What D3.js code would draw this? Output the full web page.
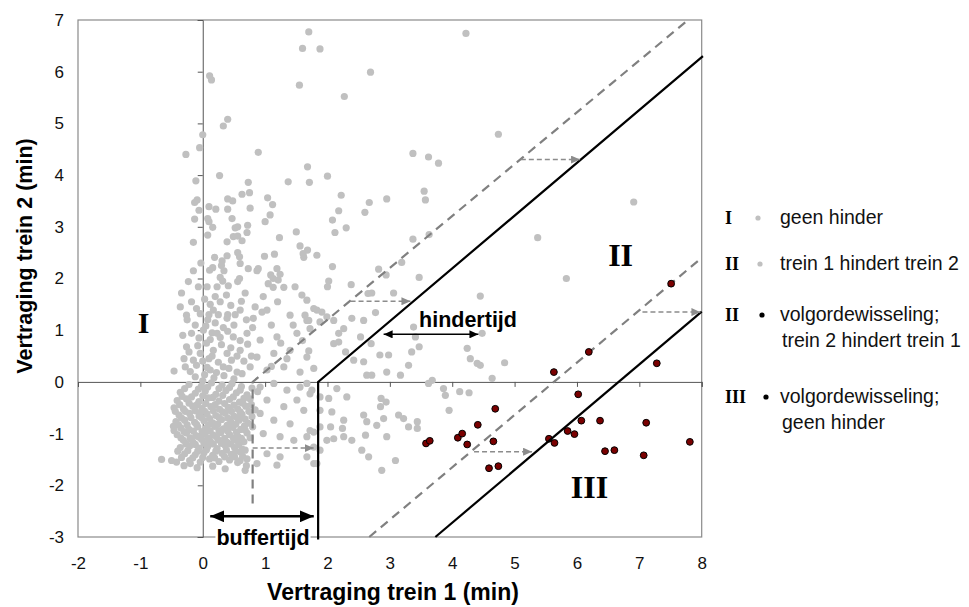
<!DOCTYPE html>
<html><head><meta charset="utf-8">
<script src="https://cdn.jsdelivr.net/npm/d3@7/dist/d3.min.js"></script>
<style>body{margin:0;background:#fff}svg{display:block}</style>
</head><body><svg id="c" width="969" height="607"></svg>
<script>
const xTicks=[-2,-1,0,1,2,3,4,5,6,7,8];
const yTicks=[-3,-2,-1,0,1,2,3,4,5,6,7];
const xTitle="Vertraging trein 1 (min)";
const yTitle="Vertraging trein 2 (min)";

// grey points: region I (geen hinder) and region II (trein 1 hindert trein 2)
const grayPoints=[
[1.70,6.77],[1.60,6.45],[1.88,6.44],[0.11,5.92],[0.14,5.84],[1.55,5.74],[0.40,5.08],[0.33,4.95],[0.0,4.78],[-0.05,4.53],[-0.27,4.40],[0.89,4.44],[1.68,4.16],[0.27,3.99],[-0.11,3.89],[0.73,3.86],[1.37,3.87],[1.71,3.86],[0.63,3.63],[0.75,3.66],[-0.13,3.47],[-0.09,3.52],[0.40,3.54],[0.48,3.50],[1.04,3.56],[1.12,3.43],[0.10,3.39],[0.21,3.34],[-0.06,3.32],[0.40,3.34],[0.76,3.36],[0.08,3.16],[0.10,3.10],[-0.13,3.15],[0.47,3.16],[1.08,3.23],[1.00,3.10],[0.16,2.99],[0.52,2.98],[0.56,3.00],[0.72,3.03],[0.71,2.89],[1.50,2.90],[0.08,2.84],[0.49,2.81],[0.56,2.82],[-0.15,2.70],[0.39,2.71],[0.63,2.73],[1.23,2.79],[1.56,2.63],[1.68,2.55],[1.61,2.48],[1.62,2.41],[1.83,2.45],[0.56,2.50],[0.59,2.42],[0.60,2.29],[0.39,2.44],[0.31,2.34],[0.19,2.41],[0.99,2.43],[1.15,2.47],[-0.03,2.30],[0.11,2.16],[0.16,2.21],[0.30,2.25],[0.34,2.15],[-0.15,2.15],[0.73,2.19],[0.87,2.15],[0.89,2.19],[1.19,2.19],[1.09,2.07],[1.24,2.08],[1.13,2.00],[1.21,1.97],[0.59,2.00],[0.56,1.94],[0.28,2.02],[0.32,1.95],[-0.23,1.94],[-0.07,1.84],[0.07,1.84],[0.23,1.84],[0.41,1.86],[1.05,1.90],[1.13,1.83],[1.30,1.83],[1.48,1.84],[-0.34,1.72],[0.68,1.72],[0.97,1.65],[1.59,1.68],
[4.22,6.74],[2.69,5.99],[2.27,5.52],[4.74,4.79],[3.37,4.42],[3.62,4.35],[3.78,4.23],[2.00,3.98],[2.22,3.61],[2.67,3.47],[2.95,3.54],[2.60,3.28],[3.55,3.69],[3.57,3.52],[2.18,3.31],[2.08,3.13],[2.12,2.89],[2.30,2.98],[6.91,3.48],[5.37,2.79],[3.37,2.76],[3.63,2.85],[2.08,2.23],[2.02,1.95],[2.00,1.84],[2.38,1.88],[2.82,2.18],[2.94,2.07],[3.19,2.31],[3.47,2.02],[5.83,2.00],[2.65,1.71],[2.71,1.72],[3.06,1.72],[4.45,1.66],
[1.67,1.58],[1.78,1.42],[1.91,1.35],[1.99,1.26],[1.88,1.16],[2.10,1.19],[2.26,1.03],[2.39,1.23],[2.18,0.77],[1.70,1.19],[1.72,1.03],[1.64,1.29],[2.77,1.34],[2.53,0.87],[3.38,1.06],[3.41,0.87],[3.47,0.68],[2.18,0.94],[2.10,0.74],[2.58,1.19],[2.70,0.74],
[4.48,0.94],[4.24,0.65],[4.29,0.45],[4.40,0.36],[4.45,0.32],[4.84,0.37],[3.35,0.58],[3.30,0.32],[3.17,0.13],[2.95,0.19],[2.84,0.52],[2.98,0.52],[2.63,0.13],[2.71,0.13],[2.58,0.39],[2.42,0.42],[2.29,0.58],
[3.62,-0.03],[3.68,0.03],[3.86,-0.13],[3.89,-0.26],[4.12,-0.19],[4.27,-0.21],[4.64,0.07],[3.95,-0.55],[2.86,-0.32],[2.94,-0.39],[2.85,-0.48],[2.58,-0.64],[2.63,-0.77],[2.79,-0.84],[2.90,-0.71],[3.14,-0.64],[3.22,-0.71],[3.30,-0.87],[3.44,-0.77],[3.44,-0.90],[2.61,-1.03],[2.95,-1.06],[2.39,-1.13],[2.26,-1.06],[2.10,-1.10],[2.24,-0.90],[2.05,-0.87],[2.55,-1.32],[2.66,-1.45],[3.09,-1.52],[2.87,-1.71],
[1.88,-0.29],[2.02,-0.32],[2.15,-0.13],[2.31,-0.29],[1.67,-0.03],[1.75,-0.16],[1.88,-0.55],[2.07,-0.58],[2.26,-0.74],[1.88,-0.87],[1.78,-0.97],[1.67,-1.06],[1.78,-1.26],[1.88,-1.32],[1.99,-1.13],[1.83,-1.58],[1.67,-1.45],
[-0.36,1.45],[-0.26,1.29],[-0.04,1.32],[0.17,1.39],[0.39,1.23],[0.60,1.39],[0.81,1.23],[1.03,1.39],[1.40,1.29],[1.67,1.19],[1.83,1.39],[-0.18,0.94],[0.01,1.00],[0.23,0.94],[0.49,0.87],[0.71,0.94],[0.92,0.81],[1.19,0.87],[1.51,0.94],[-0.26,0.68],[-0.04,0.55],[0.17,0.61],[0.39,0.55],[0.60,0.61],[0.87,0.48],[1.14,0.55],[1.40,0.61],[1.67,0.48],[-0.46,0.21],[-0.28,0.29],[-0.10,0.32],[0.12,0.23],[0.33,0.29],[0.55,0.19],[0.76,0.29],[1.03,0.23],[1.30,0.29],[1.56,0.19],[1.78,0.26],
[0.92,-0.10],[1.14,-0.03],[1.35,-0.16],[1.56,-0.10],[1.72,-0.23],[1.03,-0.35],[1.30,-0.48],[1.51,-0.35],[1.62,-0.55],[0.92,-0.61],[1.14,-0.74],[1.40,-0.81],[1.72,-0.94],[0.97,-1.00],[1.24,-1.06],[1.46,-1.13],[1.03,-1.39],[1.24,-1.45],[0.87,-1.58],[1.19,-1.61],[1.78,-1.58],[0.68,-1.71],[0.60,-1.52],[-0.47,-0.86],[-0.50,-1.52],[-0.42,-1.55],[-0.20,-1.58],
[-0.22,-0.05],[-0.02,-0.08],[0.14,-0.02],[0.31,-0.06],[0.47,-0.03],[0.62,-0.09],
[-0.36,-0.2],[-0.12,-0.22],[0.04,-0.18],[0.21,-0.24],[0.37,-0.17],[0.54,-0.21],[0.71,-0.25],[0.88,-0.19],
[-0.41,-0.36],[-0.26,-0.33],[-0.06,-0.38],[0.09,-0.31],[0.26,-0.37],[0.43,-0.34],[0.59,-0.39],[0.76,-0.33],
[-0.46,-0.5],[-0.31,-0.52],[-0.16,-0.47],[-0.01,-0.51],[0.13,-0.48],[0.27,-0.53],[0.41,-0.49],[0.56,-0.52],[0.69,-0.47],[0.84,-0.54],
[-0.38,-0.64],[-0.21,-0.61],[-0.06,-0.66],[0.07,-0.62],[0.21,-0.65],[0.36,-0.6],[0.5,-0.66],[0.63,-0.63],[0.79,-0.67],
[-0.43,-0.77],[-0.29,-0.74],[-0.13,-0.78],[0.02,-0.75],[0.16,-0.79],[0.3,-0.73],[0.45,-0.77],[0.58,-0.74],[0.73,-0.8],
[-0.35,-0.89],[-0.22,-0.92],[-0.08,-0.87],[0.05,-0.9],[0.19,-0.86],[0.33,-0.91],[0.48,-0.88],[0.61,-0.92],[0.8,-0.87],
[-0.41,-1.02],[-0.26,-0.99],[-0.11,-1.04],[0.03,-1.0],[0.17,-1.03],[0.29,-0.98],[0.43,-1.02],[0.56,-1.05],[0.71,-0.99],
[-0.31,-1.13],[-0.16,-1.16],[-0.02,-1.11],[0.12,-1.15],[0.25,-1.12],[0.39,-1.17],[0.53,-1.13],[0.66,-1.16],
[-0.36,-1.27],[-0.21,-1.24],[-0.06,-1.28],[0.08,-1.25],[0.23,-1.29],[0.36,-1.23],[0.51,-1.27],[0.63,-1.3],
[-0.29,-1.39],[-0.12,-1.41],[0.02,-1.37],[0.16,-1.42],[0.31,-1.38],[0.46,-1.4],[0.61,-1.36],
[-0.66,-1.5],[-0.21,-1.52],[-0.04,-1.55],[0.11,-1.49],[0.26,-1.54],[0.43,-1.51],[0.56,-1.56],[0.71,-1.49],
[-0.3,-1.62],[-0.09,-1.66],[0.16,-1.63],[0.36,-1.68],[0.7,-1.62],
[-0.29,-0.13],[-0.07,-0.14],[0.08,-0.1],[0.26,-0.13],[0.43,-0.11],[0.6,-0.16],[0.79,-0.12],
[-0.33,-0.28],[-0.18,-0.29],[0.0,-0.27],[0.16,-0.3],[0.32,-0.26],[0.49,-0.29],[0.66,-0.32],
[-0.37,-0.44],[-0.22,-0.41],[-0.09,-0.44],[0.05,-0.42],[0.2,-0.44],[0.35,-0.42],[0.5,-0.45],[0.64,-0.41],[0.78,-0.44],
[-0.44,-0.57],[-0.28,-0.57],[-0.12,-0.56],[0.03,-0.57],[0.17,-0.56],[0.32,-0.58],[0.46,-0.57],[0.6,-0.58],[0.74,-0.57],
[-0.34,-0.7],[-0.19,-0.69],[-0.02,-0.69],[0.11,-0.71],[0.26,-0.69],[0.4,-0.7],[0.55,-0.69],[0.68,-0.72],
[-0.39,-0.83],[-0.25,-0.83],[-0.1,-0.82],[0.09,-0.83],[0.24,-0.82],[0.39,-0.84],[0.53,-0.82],[0.67,-0.85],
[-0.46,-0.94],[-0.3,-0.96],[-0.15,-0.95],[-0.01,-0.96],[0.12,-0.95],[0.26,-0.94],[0.4,-0.95],[0.54,-0.97],[0.68,-0.93],
[-0.35,-1.08],[-0.2,-1.08],[-0.06,-1.07],[0.08,-1.08],[0.22,-1.06],[0.35,-1.09],[0.49,-1.08],[0.62,-1.09],[0.76,-1.08],
[-0.27,-1.2],[-0.12,-1.21],[0.02,-1.19],[0.17,-1.2],[0.3,-1.19],[0.45,-1.2],[0.58,-1.21],
[-0.4,-1.34],[-0.24,-1.33],[-0.08,-1.34],[0.06,-1.31],[0.21,-1.34],[0.38,-1.32],[0.53,-1.34],[0.68,-1.32],
[-0.34,-1.46],[-0.16,-1.47],[0.0,-1.46],[0.19,-1.47],[0.35,-1.45],[0.51,-1.45],[0.64,-1.44],
[-0.2,-1.1],[0.0,0.02],[-0.05,-0.6],
[-0.12,0.1],[0.03,0.14],[0.18,0.08],[0.34,0.12],[0.5,0.06],[-0.3,0.45],[-0.15,0.42],[0.0,0.4],[0.1,0.45],[0.25,0.38],[0.46,0.42],[0.66,0.4],[0.78,0.5],[-0.08,0.7],[0.06,0.75],[0.3,0.72],[0.45,0.66],[0.72,0.73],[-0.12,1.1],[0.05,1.08],[0.2,1.14],[0.33,1.05],[0.5,1.1],[0.8,1.05],[-0.18,1.55],[0.03,1.6],[0.12,1.5],[0.28,1.55],[0.45,1.48],[0.62,1.56],[0.84,1.45],[1.1,1.1],[1.25,0.75],[1.45,1.1],[1.2,1.55],[0.95,1.35],[-0.25,1.2],[0.15,0.95],[0.1,1.3],[0.4,1.3],[0.6,0.8],[1.6,0.8],[1.7,0.6],[1.1,0.3],[1.35,0.45],
[-0.2,0.2],[0.07,0.28],[0.22,0.18],[0.42,0.26],[0.63,0.16],[-0.22,0.58],[-0.06,0.85],[0.12,0.82],[0.28,0.86],[0.4,0.98],[0.55,0.5],[0.08,1.2],[0.25,1.3],[-0.1,1.42],[0.2,1.65],[0.38,1.68],[0.52,1.3],[0.7,1.2],[0.15,0.5],[-0.32,0.9]
];

// dark red points: volgordewisseling (region II: trein 2 hindert trein 1, region III: geen hinder)
const redPointsII=[[7.51,1.90],[5.63,0.19],[6.19,0.58],[6.02,-0.24],[4.69,-0.52],[4.41,-0.83],[6.07,-0.75],[4.09,-1.08],[4.16,-1.00],[4.24,-1.21],[3.58,-1.19],[3.64,-1.14],[4.66,-1.15],[5.55,-1.10],[5.64,-1.18],[5.85,-0.95],[5.96,-1.01],[4.59,-1.67],[4.74,-1.63]];
const redPointsIII=[[7.28,0.36],[6.37,-0.75],[7.11,-0.79],[6.45,-1.34],[6.60,-1.32],[7.07,-1.42],[7.81,-1.16]];

// boundary lines
const solidLine1=[[1.85,-3.05],[1.85,0],[8.02,6.3]];
const solidLine2=[[3.73,-3],[8.0,1.36]];
const dashedLine1=[[0.8,-2.35],[0.8,0],[7.78,7]];
const dashedLine2=[[2.67,-3],[8,2.4]];
// small shift arrows: [xFrom, xTo, y]
const shiftArrows=[[0.8,1.78,-1.28],[2.37,3.33,1.56],[5.1,6.05,4.3],[4.35,5.28,-1.35],[7.05,7.98,1.35]];
// double arrows: [xFrom, xTo, y]
const bufferArrow=[0.12,1.78,-2.6];
const hinderArrow=[2.9,4.42,0.92];

const regionLabels=[{t:"I",x:-0.95,y:0.95,s:30},{t:"II",x:6.7,y:2.25,s:32},{t:"III",x:6.2,y:-2.25,s:32}];
const legendItems=[
 {num:"I",color:"#c0c0c0",lines:["geen hinder"]},
 {num:"II",color:"#c0c0c0",lines:["trein 1 hindert trein 2"]},
 {num:"II",color:"#000",lines:["volgordewisseling;","trein 2 hindert trein 1"]},
 {num:"III",color:"#000",lines:["volgordewisseling;","geen hinder"]}
];

const svg=d3.select("#c");
const x=d3.scaleLinear().domain([-2,8]).range([78,701.7]);
const y=d3.scaleLinear().domain([-3,7]).range([537,20]);
const sans="'Liberation Sans', Arial, sans-serif";
const serif="'Liberation Serif', 'Times New Roman', serif";

svg.append("rect").attr("width",969).attr("height",607).attr("fill","#fff");
const defs=svg.append("defs");
defs.append("clipPath").attr("id","clip").append("rect").attr("x",x(-2)).attr("y",y(7)).attr("width",x(8)-x(-2)+3).attr("height",y(-3)-y(7)+4);
function marker(id,color,w,h){
  defs.append("marker").attr("id",id).attr("viewBox",`0 0 ${w} ${h}`).attr("refX",w).attr("refY",h/2)
   .attr("markerWidth",w).attr("markerHeight",h).attr("markerUnits","userSpaceOnUse").attr("orient","auto-start-reverse")
   .append("path").attr("d",`M0,0L${w},${h/2}L0,${h}Z`).attr("fill",color);
}
marker("ag","#8c8c8c",9,8);
marker("ab","#000",14,12);
marker("ah","#000",9,8);

// frame
svg.append("rect").attr("x",x(-2)).attr("y",y(7)).attr("width",x(8)-x(-2)).attr("height",y(-3)-y(7))
  .attr("fill","none").attr("stroke","#8a8a8a").attr("stroke-width",1.2);

// axes through origin
const gx=svg.append("g").attr("transform",`translate(0,${y(0)})`)
  .call(d3.axisBottom(x).tickValues(xTicks).tickSize(5).tickFormat(""));
gx.select(".domain").attr("stroke","#555");
gx.selectAll(".tick line").attr("stroke","#555");
const gy=svg.append("g").attr("transform",`translate(${x(0)},0)`)
  .call(d3.axisLeft(y).tickValues(yTicks).tickSize(5).tickFormat(""));
gy.select(".domain").attr("stroke","#555");
gy.selectAll(".tick line").attr("stroke","#555");

// tick labels on frame edges
const fmt=d=>String(d);
const lx=svg.append("g").attr("transform",`translate(0,${y(-3)})`)
  .call(d3.axisBottom(x).tickValues(xTicks).tickSize(0).tickPadding(20).tickFormat(fmt));
lx.select(".domain").remove();
lx.attr("font-size",null).attr("font-family",null);
lx.selectAll("text").attr("font-family",sans).attr("font-size",17).attr("fill","#111");
const ly=svg.append("g").attr("transform",`translate(${x(-2)},0)`)
  .call(d3.axisLeft(y).tickValues(yTicks).tickSize(0).tickPadding(14).tickFormat(fmt));
ly.select(".domain").remove();
ly.attr("font-size",null).attr("font-family",null);
ly.selectAll("text").attr("font-family",sans).attr("font-size",17).attr("fill","#111");

// points
const plot=svg.append("g").attr("clip-path","url(#clip)");
plot.selectAll("circle.g").data(grayPoints).join("circle").attr("class","g")
  .attr("cx",d=>x(d[0])).attr("cy",d=>y(d[1])).attr("r",3.6).attr("fill","#c0c0c0");

const line=d3.line().x(d=>x(d[0])).y(d=>y(d[1]));
[dashedLine1,dashedLine2].forEach(l=>plot.append("path").attr("d",line(l)).attr("fill","none")
  .attr("stroke","#808080").attr("stroke-width",2.2).attr("stroke-dasharray","9,6"));
[solidLine1,solidLine2].forEach(l=>svg.append("path").attr("d",line(l)).attr("fill","none")
  .attr("stroke","#000").attr("stroke-width",2.2));
svg.selectAll("line.sa").data(shiftArrows).join("line").attr("class","sa")
  .attr("x1",d=>x(d[0])).attr("x2",d=>x(d[1])).attr("y1",d=>y(d[2])).attr("y2",d=>y(d[2]))
  .attr("stroke","#8c8c8c").attr("stroke-width",1.5).attr("stroke-dasharray","5,3").attr("marker-end","url(#ag)");

plot.selectAll("circle.r").data(redPointsII.concat(redPointsIII)).join("circle").attr("class","r")
  .attr("cx",d=>x(d[0])).attr("cy",d=>y(d[1])).attr("r",3.4).attr("fill","#7a0000").attr("stroke","#000").attr("stroke-width",1);

svg.append("line").attr("x1",x(bufferArrow[0])).attr("x2",x(bufferArrow[1])).attr("y1",y(bufferArrow[2])).attr("y2",y(bufferArrow[2]))
  .attr("stroke","#000").attr("stroke-width",2.5).attr("marker-start","url(#ab)").attr("marker-end","url(#ab)");
svg.append("line").attr("x1",x(hinderArrow[0])).attr("x2",x(hinderArrow[1])).attr("y1",y(hinderArrow[2])).attr("y2",y(hinderArrow[2]))
  .attr("stroke","#000").attr("stroke-width",1.5).attr("marker-start","url(#ah)").attr("marker-end","url(#ah)");

// labels buffertijd / hindertijd
const bgRect=svg.append("rect").attr("fill","#fff");
const bt=svg.append("text").attr("x",(x(bufferArrow[0])+x(bufferArrow[1]))/2+1).attr("y",545)
  .attr("text-anchor","middle").attr("font-family",sans).attr("font-weight","bold").attr("font-size",21.5).text("buffertijd");
const bb=bt.node().getBBox();
bgRect.attr("x",bb.x-1).attr("y",bb.y+3).attr("width",bb.width+2).attr("height",bb.height-5);
svg.append("text").attr("x",468).attr("y",327).attr("text-anchor","middle").attr("font-family",sans)
  .attr("font-weight","bold").attr("font-size",21.5).text("hindertijd");

svg.selectAll("text.reg").data(regionLabels).join("text").attr("class","reg")
  .attr("x",d=>x(d.x)).attr("y",d=>y(d.y)).attr("text-anchor","middle").attr("font-family",serif)
  .attr("font-weight","bold").attr("font-size",d=>d.s).text(d=>d.t);

svg.append("text").attr("x",393).attr("y",600).attr("text-anchor","middle").attr("font-family",sans)
  .attr("font-weight","bold").attr("font-size",23).text(xTitle);
svg.append("text").attr("transform","translate(32,256) rotate(-90)").attr("text-anchor","middle").attr("font-family",sans)
  .attr("font-weight","bold").attr("font-size",21.5).text(yTitle);

const legY=[224,270,321,403];
const lg=svg.append("g");
legendItems.forEach((it,i)=>{
  const by=legY[i];
  lg.append("text").attr("x",725).attr("y",by).attr("font-family",serif).attr("font-weight","bold").attr("font-size",18).text(it.num);
  lg.append("circle").attr("cx",758+[0,2,4,8][i]).attr("cy",by-6).attr("r",2.6).attr("fill",it.color);
  it.lines.forEach((t,j)=>lg.append("text").attr("x",780+j*2).attr("y",by+j*26).attr("font-family",sans)
    .attr("font-size",19.5).attr("fill","#111").text(t));
});
</script></body></html>
